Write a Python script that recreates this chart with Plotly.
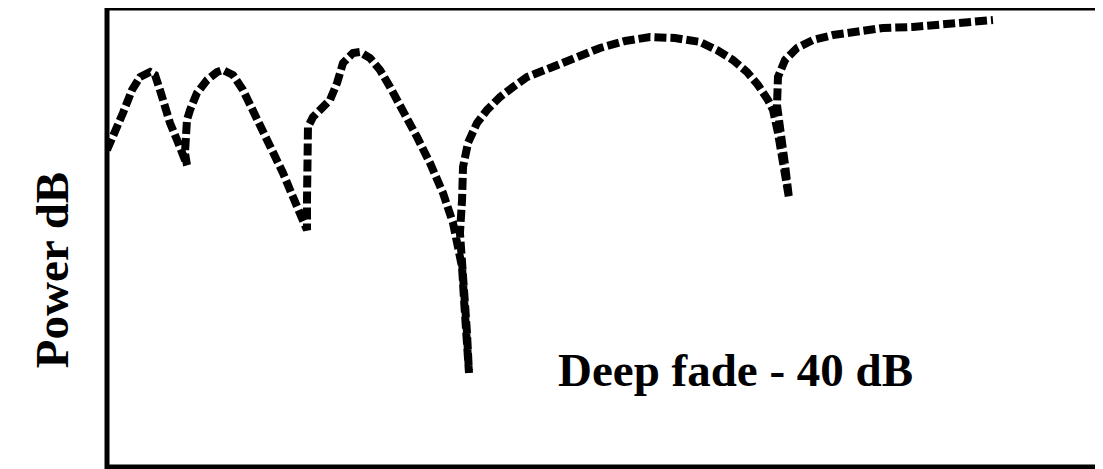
import plotly.graph_objects as go

# Frequency (arbitrary units, 0-100) and received power (dB)
freq = [0.00, 0.81, 1.61, 2.52, 3.33, 4.33, 4.84, 5.34, 5.85, 6.35, 7.06, 7.56, 8.06,
        7.86, 7.86, 8.06, 8.37, 9.07, 10.08, 11.09, 11.69, 12.70, 13.71, 14.72, 15.73,
        16.73, 17.74, 18.75, 19.46, 20.16,
        20.16, 20.16, 20.26, 20.77, 21.77, 22.48, 23.19, 23.79, 24.80, 25.50, 26.51,
        27.52, 28.53, 29.84, 31.25, 32.56, 33.87, 34.88, 35.38, 35.79, 35.99, 36.29, 36.49,
        36.29, 35.99, 35.69, 35.58, 35.79, 35.89, 36.39, 37.30, 38.31, 39.62, 40.93, 42.34,
        44.66, 47.18, 49.70, 52.22, 54.74, 57.26, 59.78, 61.49, 63.10, 64.52, 65.62, 66.63,
        67.14, 67.64, 68.15, 68.55, 68.75,
        68.35, 67.84, 67.54, 67.64, 68.35, 69.56, 71.17, 73.19, 75.60, 78.23, 81.25, 83.97,
        86.69, 89.31]
power_db = [-16.55, -14.57, -12.24, -9.56, -8.04, -7.46, -7.81, -9.56, -11.54, -13.40, -15.38, -16.90, -18.30,
            -16.90, -14.57, -13.05, -11.89, -9.91, -8.39, -7.46, -7.23, -7.81, -9.56, -11.89, -14.22,
            -16.55, -19.23, -22.03, -23.89, -25.87,
            -22.38, -16.55, -13.87, -12.70, -11.54, -10.72, -8.74, -6.41, -5.24, -5.13, -5.83,
            -7.23, -9.21, -11.89, -15.03, -18.07, -21.56, -25.06, -27.39, -30.19, -34.03, -37.88, -42.54,
            -37.88, -32.87, -29.37, -26.22, -22.38, -18.53, -15.73, -13.40, -11.89, -10.37, -9.21, -8.04,
            -6.99, -5.71, -4.66, -3.85, -3.38, -3.50, -3.96, -4.90, -6.06, -7.46, -8.97, -10.72,
            -11.89, -14.57, -17.72, -20.40, -22.14,
            -18.30, -14.22, -11.31, -8.04, -6.06, -4.66, -3.73, -3.15, -2.80, -2.33, -2.21, -1.98,
            -1.75, -1.40]

y_title = "Power dB"
note_text = "Deep fade - 40 dB"
note_x = 63.4
note_y = -42.2

fig = go.Figure()
fig.add_trace(go.Scatter(
    x=freq, y=power_db, mode="lines",
    line=dict(color="black", width=8, dash="12px,4px"),
    hoverinfo="skip", showlegend=False,
))

serif = "Liberation Serif, Times New Roman, serif"

fig.add_annotation(x=note_x, y=note_y, xref="x", yref="y", text=f"<b>{note_text}</b>",
                   showarrow=False, font=dict(family=serif, size=47, color="black"),
                   xanchor="center", yanchor="middle")
fig.add_annotation(x=-0.0554, y=0.429, xref="paper", yref="paper", text=f"<b>{y_title}</b>",
                   textangle=-90, showarrow=False,
                   font=dict(family=serif, size=47, color="black"),
                   xanchor="center", yanchor="middle")

fig.add_shape(type="rect", xref="paper", yref="paper", x0=0, x1=1, y0=0, y1=1,
              line=dict(color="black", width=5), fillcolor="rgba(0,0,0,0)", layer="above")

fig.update_xaxes(range=[0, 100], visible=False, showgrid=False, zeroline=False)
fig.update_yaxes(range=[-53.5, 0], visible=False, showgrid=False, zeroline=False)

fig.update_layout(
    width=1095, height=461,
    margin=dict(l=99, r=4, t=0, b=2),
    paper_bgcolor="white", plot_bgcolor="white",
    showlegend=False,
)

fig.write_html("out.html")
